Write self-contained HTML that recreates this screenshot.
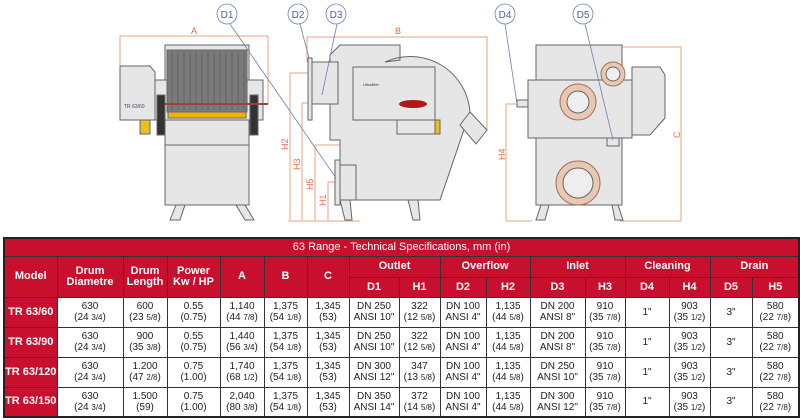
<!DOCTYPE html>
<html><head><meta charset="utf-8">
<style>
body{margin:0;width:800px;height:420px;background:#fff;overflow:hidden;font-family:"Liberation Sans",Tahoma,sans-serif;}
#d{position:absolute;left:0;top:0}
table{position:absolute;left:3px;top:237px;border-collapse:collapse;width:795px;table-layout:fixed;border:2px solid #222;}
td{border:1px solid #333;text-align:center;font-size:10px;line-height:11px;color:#222;padding:0;}
.t td{background:#c8102e;color:#fff;}
.r{background:#c8102e;color:#fff;font-weight:bold;font-size:11px;}
.h td{font-weight:bold;font-size:11px;}
small{font-size:8px}
</style></head><body>
<svg id="d" width="800" height="236" viewBox="0 0 800 236">
<g stroke="#e8a080" stroke-width="1" fill="none">
<polyline points="120,66 120,36 268,36 268,104"/>
<polyline points="307,62 307,37 487,37 487,130"/>
<line x1="290" y1="73" x2="338" y2="73"/><line x1="290" y1="73" x2="290" y2="220"/>
<line x1="302" y1="103" x2="338" y2="103"/><line x1="302" y1="103" x2="302" y2="220"/>
<line x1="315" y1="145" x2="340" y2="145"/><line x1="315" y1="145" x2="315" y2="220"/>
<line x1="328" y1="182" x2="365" y2="182"/><line x1="328" y1="182" x2="328" y2="220"/>
<line x1="288" y1="221" x2="360" y2="221"/>
<polyline points="518,104 506,104 506,221 532,221"/>
<polyline points="622,47 681,47 681,221 620,221"/>
</g>
<g fill="#e07050" font-size="9">
<text x="191" y="34">A</text><text x="395" y="34">B</text>
<text x="288" y="150" transform="rotate(-90 288 150)">H2</text>
<text x="300" y="170" transform="rotate(-90 300 170)">H3</text>
<text x="313" y="190" transform="rotate(-90 313 190)">H5</text>
<text x="326" y="206" transform="rotate(-90 326 206)">H1</text>
<text x="505" y="160" transform="rotate(-90 505 160)">H4</text>
<text x="680" y="138" transform="rotate(-90 680 138)">C</text>
</g>
<!-- front view -->
<g stroke="#666" stroke-width="1" fill="#e6e6e6">
<path d="M176,205 L170,220 L180,220 L185,205Z"/><path d="M236,205 L245,220 L254,220 L245,205Z"/>
<rect x="165" y="45" width="84" height="160"/>
<rect x="153" y="80" width="110" height="40"/>
<rect x="167" y="50" width="80" height="62" fill="#7a7a7a"/>
<path d="M120,66 L150,66 L155,72 L155,120 L120,120Z"/>
<rect x="140" y="120" width="10" height="14" fill="#e8c020"/>
<rect x="157" y="95" width="8" height="40" fill="#333"/><rect x="250" y="95" width="8" height="40" fill="#333"/>
<rect x="168" y="112" width="78" height="6" fill="#f0b400"/>
<line x1="165" y1="145" x2="249" y2="145"/>
</g>
<g stroke="#555" stroke-width="0.6">
<line x1="172" y1="52" x2="172" y2="110"/><line x1="178" y1="52" x2="178" y2="110"/><line x1="184" y1="52" x2="184" y2="110"/><line x1="190" y1="52" x2="190" y2="110"/><line x1="196" y1="52" x2="196" y2="110"/><line x1="202" y1="52" x2="202" y2="110"/><line x1="208" y1="52" x2="208" y2="110"/><line x1="214" y1="52" x2="214" y2="110"/><line x1="220" y1="52" x2="220" y2="110"/><line x1="226" y1="52" x2="226" y2="110"/><line x1="232" y1="52" x2="232" y2="110"/><line x1="238" y1="52" x2="238" y2="110"/><line x1="244" y1="52" x2="244" y2="110"/>
</g>
<line x1="165" y1="104" x2="268" y2="104" stroke="#a04040" stroke-width="2"/>
<text x="124" y="108" font-size="5" fill="#446">TR 63/60</text>
<!-- side view -->
<g stroke="#666" stroke-width="1" fill="#e6e6e6">
<path d="M340,200 L345,220 L352,220 L350,200Z"/><path d="M408,200 L413,220 L420,220 L418,200Z"/>
<path d="M385,62 A60,60 0 0 1 470,112 L440,200 L340,200 L340,140 L330,140 L330,55 L340,45 L400,45 L400,60Z"/>
<rect x="353" y="67" width="82" height="53"/>
<rect x="397" y="120" width="40" height="14"/>
<rect x="435" y="120" width="5" height="14" fill="#e8c020"/>
<path d="M470,112 L487,130 L476,144 L460,125Z"/>
<rect x="312" y="62" width="26" height="42"/>
<rect x="308" y="58" width="4" height="62"/>
<rect x="340" y="165" width="16" height="35"/><rect x="335" y="160" width="5" height="45"/>
</g>
<ellipse cx="413" cy="104" rx="14" ry="4" fill="#b01818"/>
<text x="363" y="86" font-size="4" fill="#335">Ultrafilter</text>
<!-- end view -->
<g stroke="#666" stroke-width="1" fill="#e6e6e6">
<path d="M541,205 L536,220 L545,220 L549,205Z"/><path d="M612,205 L615,220 L623,220 L618,205Z"/>
<rect x="536" y="45" width="86" height="160"/>
<rect x="528" y="80" width="104" height="58"/>
<path d="M632,67 L660,67 L665,75 L665,118 L650,135 L632,135Z"/>
<rect x="517" y="100" width="11" height="7"/>
<rect x="607" y="138" width="12" height="8"/>
<circle cx="578" cy="102" r="18" fill="#e8c8b0" stroke="#a07060"/><circle cx="578" cy="102" r="11" fill="#eee"/>
<circle cx="613" cy="74" r="12" fill="#e8c8b0" stroke="#a07060"/><circle cx="613" cy="74" r="7" fill="#eee"/>
<circle cx="578" cy="183" r="22" fill="#e8c8b0" stroke="#a07060"/><circle cx="578" cy="183" r="15" fill="#eee"/>
</g>
<!-- callouts -->
<g stroke="#7080b0" stroke-width="0.8" fill="none">
<line x1="230" y1="24" x2="336" y2="178"/><line x1="300" y1="24" x2="309" y2="58"/><line x1="337" y1="24" x2="322" y2="95"/>
<line x1="505" y1="24" x2="517" y2="104"/><line x1="585" y1="24" x2="613" y2="140"/>
<circle cx="227" cy="14" r="10" fill="#fff"/><circle cx="298" cy="14" r="10" fill="#fff"/><circle cx="336" cy="14" r="10" fill="#fff"/>
<circle cx="505" cy="14" r="10" fill="#fff"/><circle cx="583" cy="14" r="10" fill="#fff"/>
</g>
<g fill="#5060a0" font-size="10" text-anchor="middle">
<text x="227" y="18">D1</text><text x="298" y="18">D2</text><text x="336" y="18">D3</text><text x="505" y="18">D4</text><text x="583" y="18">D5</text>
</g>
</svg>
<table>
<colgroup><col style="width:53px"><col style="width:66px"><col style="width:44px"><col style="width:53px"><col style="width:44px"><col style="width:43px"><col style="width:42px"><col style="width:50px"><col style="width:41px"><col style="width:46px"><col style="width:44px"><col style="width:55px"><col style="width:40px"><col style="width:44px"><col style="width:41px"><col style="width:42px"><col style="width:47px"></colgroup>
<tr class="t" style="height:18px"><td colspan="17" style="font-size:11px">63 Range - Technical Specifications, mm (in)</td></tr>
<tr class="t h" style="height:21px"><td rowspan="2">Model</td><td rowspan="2">Drum<br>Diametre</td><td rowspan="2">Drum<br>Length</td><td rowspan="2">Power<br>Kw / HP</td><td rowspan="2">A</td><td rowspan="2">B</td><td rowspan="2">C</td><td colspan="2">Outlet</td><td colspan="2">Overflow</td><td colspan="2">Inlet</td><td colspan="2">Cleaning</td><td colspan="2">Drain</td></tr>
<tr class="t h" style="height:20px"><td>D1</td><td>H1</td><td>D2</td><td>H2</td><td>D3</td><td>H3</td><td>D4</td><td>H4</td><td>D5</td><td>H5</td></tr>
<tr style="height:30px"><td class="r">TR 63/60</td><td>630<br>(24 <small>3/4</small>)</td><td>600<br>(23 <small>5/8</small>)</td><td>0.55<br>(0.75)</td><td>1,140<br>(44 <small>7/8</small>)</td><td>1,375<br>(54 <small>1/8</small>)</td><td>1,345<br>(53)</td><td>DN 250<br>ANSI 10"</td><td>322<br>(12 <small>5/8</small>)</td><td>DN 100<br>ANSI 4"</td><td>1,135<br>(44 <small>5/8</small>)</td><td>DN 200<br>ANSI 8"</td><td>910<br>(35 <small>7/8</small>)</td><td>1"</td><td>903<br>(35 <small>1/2</small>)</td><td>3"</td><td>580<br>(22 <small>7/8</small>)</td></tr>
<tr style="height:30px"><td class="r">TR 63/90</td><td>630<br>(24 <small>3/4</small>)</td><td>900<br>(35 <small>3/8</small>)</td><td>0.55<br>(0.75)</td><td>1,440<br>(56 <small>3/4</small>)</td><td>1,375<br>(54 <small>1/8</small>)</td><td>1,345<br>(53)</td><td>DN 250<br>ANSI 10"</td><td>322<br>(12 <small>5/8</small>)</td><td>DN 100<br>ANSI 4"</td><td>1,135<br>(44 <small>5/8</small>)</td><td>DN 200<br>ANSI 8"</td><td>910<br>(35 <small>7/8</small>)</td><td>1"</td><td>903<br>(35 <small>1/2</small>)</td><td>3"</td><td>580<br>(22 <small>7/8</small>)</td></tr>
<tr style="height:30px"><td class="r">TR 63/120</td><td>630<br>(24 <small>3/4</small>)</td><td>1.200<br>(47 <small>2/8</small>)</td><td>0.75<br>(1.00)</td><td>1,740<br>(68 <small>1/2</small>)</td><td>1,375<br>(54 <small>1/8</small>)</td><td>1,345<br>(53)</td><td>DN 300<br>ANSI 12"</td><td>347<br>(13 <small>5/8</small>)</td><td>DN 100<br>ANSI 4"</td><td>1,135<br>(44 <small>5/8</small>)</td><td>DN 250<br>ANSI 10"</td><td>910<br>(35 <small>7/8</small>)</td><td>1"</td><td>903<br>(35 <small>1/2</small>)</td><td>3"</td><td>580<br>(22 <small>7/8</small>)</td></tr>
<tr style="height:30px"><td class="r">TR 63/150</td><td>630<br>(24 <small>3/4</small>)</td><td>1.500<br>(59)</td><td>0.75<br>(1.00)</td><td>2,040<br>(80 <small>3/8</small>)</td><td>1,375<br>(54 <small>1/8</small>)</td><td>1,345<br>(53)</td><td>DN 350<br>ANSI 14"</td><td>372<br>(14 <small>5/8</small>)</td><td>DN 100<br>ANSI 4"</td><td>1,135<br>(44 <small>5/8</small>)</td><td>DN 300<br>ANSI 12"</td><td>910<br>(35 <small>7/8</small>)</td><td>1"</td><td>903<br>(35 <small>1/2</small>)</td><td>3"</td><td>580<br>(22 <small>7/8</small>)</td></tr>
</table>
</body></html>
